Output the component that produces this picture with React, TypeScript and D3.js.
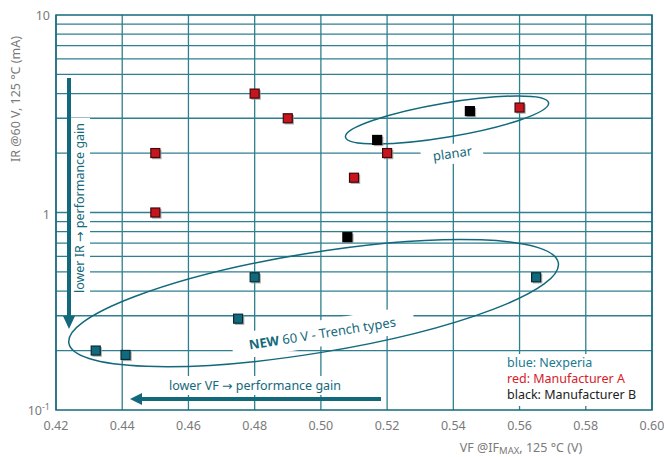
import React from "react";
import * as d3 from "d3";

const xTicks = [0.42, 0.44, 0.46, 0.48, 0.5, 0.52, 0.54, 0.56, 0.58, 0.6];
const xTickLabels = ["0.42", "0.44", "0.46", "0.48", "0.50", "0.52", "0.54", "0.56", "0.58", "0.60"];
const yMinor = [0.2, 0.3, 0.4, 0.5, 0.6, 0.7, 0.8, 0.9, 1, 2, 3, 4, 5, 6, 7, 8, 9];

const nexperiaVF = [0.432, 0.441, 0.475, 0.48, 0.565];
const nexperiaIR = [0.2, 0.19, 0.29, 0.47, 0.47];
const mfrAVF = [0.45, 0.45, 0.48, 0.49, 0.51, 0.52, 0.56];
const mfrAIR = [2.0, 1.0, 4.0, 3.0, 1.5, 2.0, 3.4];
const mfrBVF = [0.517, 0.545, 0.508];
const mfrBIR = [2.33, 3.26, 0.75];

const TEAL = "#13697c";
const GRID = "#2f7f90";

export default function App() {
  const W = 664, H = 457;
  const x = d3.scaleLinear().domain([0.42, 0.6]).range([56, 652]);
  const y = d3.scaleLog().domain([0.1, 10]).range([410, 15]);

  const series = [
    { vf: nexperiaVF, ir: nexperiaIR, fill: "#0f6a7e", stroke: "#0a2b33" },
    { vf: mfrAVF, ir: mfrAIR, fill: "#c8141e", stroke: "#3d0a0a" },
    { vf: mfrBVF, ir: mfrBIR, fill: "#000000", stroke: "#000000" },
  ];

  const font = "'Noto Sans', 'Open Sans', sans-serif";
  const arrowFont = "'DejaVu Sans', sans-serif";
  const s = 9;

  const planar = { cx: x(0.5381), cy: y(2.94), rx: 103, ry: 17, rot: -9.6 };
  const trench = { cx: x(0.4978), cy: y(0.348), rx: 248, ry: 50, rot: -9.3 };

  return (
    <svg width={W} height={H} style={{ position: "absolute", left: 0, top: 0, background: "#fff" }} fontFamily={font}>
      {yMinor.map((v) => (
        <line key={"h" + v} x1={56} x2={652} y1={y(v)} y2={y(v)} stroke={GRID} strokeWidth={1.3} />
      ))}
      {xTicks.map((v) => (
        <line key={"v" + v} x1={x(v)} x2={x(v)} y1={15} y2={410} stroke={GRID} strokeWidth={1.3} />
      ))}
      <rect x={56} y={15} width={596} height={395} fill="none" stroke={TEAL} strokeWidth={1.5} />

      <rect x={70} y={118} width={20} height={182} fill="#fff" />
      <rect x={160} y={376} width={190} height={19} fill="#fff" />
      <rect x={503} y={354} width={143} height={52} fill="#fff" />
      <g transform={`translate(452,154) rotate(-8)`}>
        <rect x={-31} y={-10} width={62} height={20} fill="#fff" />
      </g>
      <g transform={`translate(323,333) rotate(-9)`}>
        <rect x={-92} y={-13} width={184} height={26} fill="#fff" />
      </g>

      {[planar, trench].map((e, i) => (
        <ellipse key={"e" + i} cx={e.cx} cy={e.cy} rx={e.rx} ry={e.ry}
          transform={`rotate(${e.rot},${e.cx},${e.cy})`} fill="none" stroke={TEAL} strokeWidth={1.5} />
      ))}

      {series.map((sr, si) =>
        sr.vf.map((v, i) => (
          <g key={`m${si}-${i}`}>
            <rect x={x(v) - s / 2 + 1.2} y={y(sr.ir[i]) - s / 2 + 1.2} width={s + 0.5} height={s + 0.5} fill="#9a9a9a" opacity={0.8} />
            <rect x={x(v) - s / 2} y={y(sr.ir[i]) - s / 2} width={s} height={s} fill={sr.fill} stroke={sr.stroke} strokeWidth={1.2} />
          </g>
        ))
      )}

      <line x1={69} x2={69} y1={78} y2={318} stroke={TEAL} strokeWidth={4} />
      <path d="M63,316 L75,316 L69,329 Z" fill={TEAL} />
      <text transform="translate(84,208) rotate(-90)" textAnchor="middle" fontSize={12.5} fill={TEAL}>
        lower IR <tspan fontFamily={arrowFont}>→</tspan> performance gain
      </text>

      <line x1={140} x2={381} y1={399} y2={399} stroke={TEAL} strokeWidth={4} />
      <path d="M142,393 L142,405 L130,399 Z" fill={TEAL} />
      <text x={255} y={390} textAnchor="middle" fontSize={12.5} fill={TEAL}>
        lower VF <tspan fontFamily={arrowFont}>→</tspan> performance gain
      </text>

      <text transform="translate(453,158) rotate(-8)" textAnchor="middle" fontSize={13} fill={TEAL}>planar</text>
      <text transform="translate(323,338) rotate(-9)" textAnchor="middle" fontSize={13} fill={TEAL}>
        <tspan fontWeight="bold">NEW</tspan> 60 V - Trench types
      </text>

      <text x={507} y={367} fontSize={12.5} fill="#1a7a90">blue: Nexperia</text>
      <text x={507} y={383} fontSize={12.5} fill="#d8202a">red: Manufacturer A</text>
      <text x={507} y={399} fontSize={12.5} fill="#222">black: Manufacturer B</text>

      {xTicks.map((v, i) => (
        <text key={"xl" + v} x={x(v)} y={430} textAnchor="middle" fontSize={12.5} fill="#7a7a7a">{xTickLabels[i]}</text>
      ))}
      <text x={50} y={20} textAnchor="end" fontSize={12.5} fill="#7a7a7a">10</text>
      <text x={50} y={219} textAnchor="end" fontSize={12.5} fill="#7a7a7a">1</text>
      <text x={50} y={415} textAnchor="end" fontSize={12.5} fill="#7a7a7a">
        10<tspan dy={-5} fontSize={9}>-1</tspan>
      </text>

      <text x={521} y={452} textAnchor="middle" fontSize={12.5} fill="#7a7a7a">
        VF @IF<tspan fontSize={9.5} dy={2}>MAX</tspan><tspan dy={-2}>, 125 °C (V)</tspan>
      </text>
      <text transform="translate(20,99) rotate(-90)" textAnchor="middle" fontSize={12.5} fill="#7a7a7a">
        IR @60 V, 125 °C (mA)
      </text>
    </svg>
  );
}
